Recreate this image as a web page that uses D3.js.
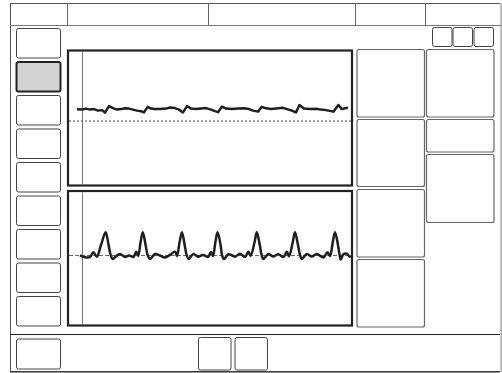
<!DOCTYPE html>
<html>
<head>
<meta charset="utf-8">
<script src="https://cdn.jsdelivr.net/npm/d3@7"></script>
<style>
  body { margin: 0; background: #fff; }
  svg { display: block; }
</style>
</head>
<body>
<svg id="screen" width="502" height="373"></svg>
<script>
// pressure trace (cmH2O) vs time (s)
var topT = [0, 0.25, 0.45, 0.65, 0.85, 1.05, 1.25, 1.4, 1.6, 1.8, 2.0, 2.2, 2.4, 2.6, 2.8, 3.0, 3.2, 3.35, 3.53, 3.7,
            3.9, 4.15, 4.45, 4.65, 4.9, 5.1, 5.3, 5.5, 5.7, 5.95, 6.2, 6.45, 6.7, 6.9, 7.05, 7.25, 7.45, 7.75, 8.05, 8.35,
            8.6, 8.8, 9.05, 9.24, 9.45, 9.7, 9.95, 10.3, 10.5, 10.75, 10.95, 11.12, 11.35, 11.65, 11.95, 12.2, 12.45, 12.82, 13.07, 13.24,
            13.49, 13.55];
var topV = [4.6, 4.5, 4.9, 4.5, 4.7, 4.1, 4.3, 3.3, 5.9, 5.1, 4.5, 4.7, 5.0, 4.9, 4.5, 4.1, 3.9, 3.4, 5.6, 4.9,
            4.7, 4.7, 4.9, 5.3, 5.1, 4.5, 3.4, 5.9, 4.9, 4.7, 4.9, 5.1, 4.5, 3.9, 3.5, 5.7, 4.9, 4.7, 4.9, 5.0,
            4.7, 4.1, 3.7, 5.6, 5.0, 4.7, 4.9, 5.2, 4.7, 4.1, 3.4, 6.3, 4.9, 4.7, 4.8, 4.5, 4.3, 3.7, 6.3, 4.7,
            5.2, 5.1];

// flow trace (L/min) vs time (s)
var botT = [0.15, 0.4, 0.65, 0.82, 0.99, 1.2, 1.43, 1.58, 1.68, 1.78, 1.99, 2.15, 2.4, 2.6, 2.82, 2.96, 3.06, 3.18, 3.29, 3.43,
            3.53, 3.65, 3.9, 4.15, 4.4, 4.65, 4.9, 5.0, 5.13, 5.25, 5.4, 5.48, 5.58, 5.82, 6.05, 6.3, 6.55, 6.7, 6.8, 6.92,
            7.03, 7.18, 7.25, 7.35, 7.58, 7.9, 8.15, 8.4, 8.57, 8.68, 8.88, 8.99, 9.14, 9.23, 9.32, 9.57, 9.82, 10.07, 10.32, 10.49,
            10.6, 10.79, 10.9, 11.05, 11.15, 11.24, 11.49, 11.74, 11.99, 12.32, 12.52, 12.65, 12.79, 12.9, 13.05, 13.13, 13.19, 13.32, 13.49, 13.63,
            13.7];
var botV = [0, -0.7, -0.6, 1.3, -0.5, 4.1, 9.1, 4.1, 0.2, -1.4, -0.1, 0.6, -0.6, 0, -0.6, 1.5, -0.2, 5.3, 9.1, 4.1,
            0.2, -1.4, 0.6, 0, -0.8, 0.2, 1.5, -0.2, 5.3, 9.1, 3.3, 0.2, -1.4, 0.6, -0.5, 0.2, -0.6, 1.4, -0.2, 5.3,
            9.1, 4.1, 0.2, -1.4, 0.5, -0.5, 0.7, -0.6, 1.5, -0.2, 5.3, 9.1, 4.1, 0.2, -1.4, 0.6, -0.4, 0.5, -0.6, 1.5,
            -0.3, 5.3, 9.1, 4.1, 0.2, -1.4, 0.6, -0.4, 0.6, -0.8, 1.3, -0.2, 5.3, 9.1, 4.1, 0.2, -1.6, 0.5, 0.7, -0.5,
            -0.2];

const svg = d3.select("#screen");

// outer frame + header
svg.append("rect").attr("x", 10.5).attr("y", 3.5).attr("width", 490.5).attr("height", 368)
  .attr("fill", "none").attr("stroke", "#555").attr("stroke-width", 1);
svg.append("line").attr("x1", 500.5).attr("x2", 500.5).attr("y1", 3).attr("y2", 372)
  .attr("stroke", "#ccc").attr("stroke-width", 1.5);
svg.append("line").attr("x1", 10).attr("x2", 501).attr("y1", 25.5).attr("y2", 25.5)
  .attr("stroke", "#777").attr("stroke-width", 1);
[67, 208, 355, 425].forEach(function(x) {
  svg.append("line").attr("x1", x + 0.5).attr("x2", x + 0.5).attr("y1", 3).attr("y2", 25)
    .attr("stroke", "#666").attr("stroke-width", 1);
});
// footer
svg.append("line").attr("x1", 10).attr("x2", 500).attr("y1", 334.5).attr("y2", 334.5)
  .attr("stroke", "#222").attr("stroke-width", 1);
svg.append("line").attr("x1", 10).attr("x2", 500).attr("y1", 372).attr("y2", 372)
  .attr("stroke", "#222").attr("stroke-width", 1.2);

function button(x, y, w, h, opts) {
  opts = opts || {};
  svg.append("rect").attr("x", x).attr("y", y).attr("width", w).attr("height", h)
    .attr("rx", 2).attr("fill", opts.fill || "#fff")
    .attr("stroke", opts.stroke || "#444").attr("stroke-width", opts.sw || 1);
}

// left column buttons
d3.range(9).forEach(function(i) {
  var y = 28.5 + i * 33.5;
  if (i == 1) button(16.5, y, 44, 29.5, {fill: "#d2d3d5", stroke: "#222", sw: 2});
  else button(16.5, y, 44, 29.5);
});

// top right small buttons
[432.5, 453, 474].forEach(function(x) { button(x, 27.5, 19.5, 19); });

// bottom buttons
button(16.5, 339, 44, 30);
button(198.5, 337.5, 32.5, 32.5);
button(235, 337.5, 32.5, 32.5);

// right column value boxes
[[49.5, 67.5], [119.5, 67], [189.5, 67.5], [259.5, 67.5]].forEach(function(b) {
  button(357, b[0], 67.5, b[1], {stroke: "#666", sw: 1.2});
});
[[49.5, 67.5], [119.5, 32.5], [154.5, 68]].forEach(function(b) {
  button(426.5, b[0], 67.5, b[1], {stroke: "#666", sw: 1.2});
});

// waveform panels
const x = d3.scaleLinear().domain([0, 13.6]).range([77, 349]);

function panel(top, bottom, y, T, V, dash, dashColor, curve) {
  const g = svg.append("g");
  g.append("rect").attr("x", 68).attr("y", top).attr("width", 284).attr("height", bottom - top)
    .attr("fill", "#fff").attr("stroke", "#222").attr("stroke-width", 2.2);
  g.append("line").attr("x1", 82.5).attr("x2", 82.5).attr("y1", top + 1).attr("y2", bottom - 1)
    .attr("stroke", "#777").attr("stroke-width", 1);
  g.append("line").attr("x1", 69).attr("x2", 351).attr("y1", y(0)).attr("y2", y(0))
    .attr("stroke", dashColor).attr("stroke-width", 1).attr("stroke-dasharray", dash);
  const line = d3.line().x(d => x(d[0])).y(d => y(d[1])).curve(curve);
  g.append("path").datum(d3.zip(T, V)).attr("d", line)
    .attr("fill", "none").attr("stroke", "#1e1e1e").attr("stroke-width", 2.5)
    .attr("stroke-linejoin", "round").attr("stroke-linecap", "butt");
}

const yTop = d3.scaleLinear().domain([-25, 27]).range([184.5, 52.5]);
const yBot = d3.scaleLinear().domain([-27, 24.6]).range([324, 193]);
panel(50.5, 185.5, yTop, topT, topV, "2,2", "#444", d3.curveLinear);
panel(191, 325.5, yBot, botT, botV, "4,2", "#666", d3.curveCatmullRom.alpha(0.5));
</script>
</body>
</html>
